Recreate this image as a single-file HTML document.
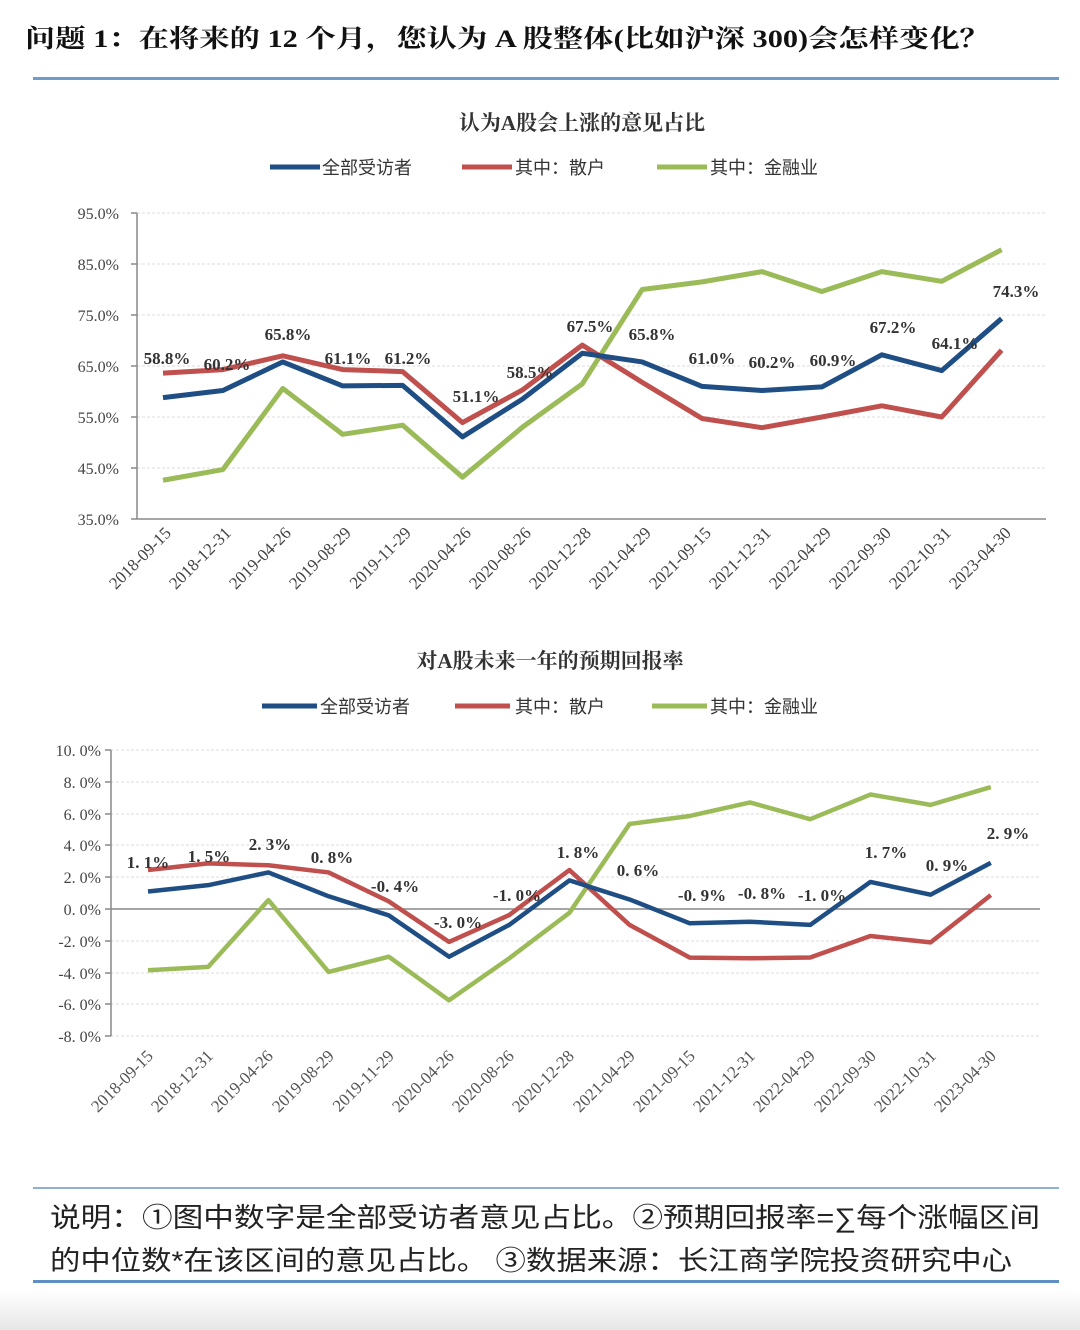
<!DOCTYPE html>
<html><head><meta charset="utf-8"><style>
html,body{margin:0;padding:0;background:#fff}
svg{display:block}
.t{font-family:"Liberation Serif","Noto Serif CJK SC",serif}
.s{font-family:"Liberation Sans","Noto Sans CJK SC",sans-serif}
</style></head><body>
<svg width="1080" height="1330" viewBox="0 0 1080 1330" xmlns="http://www.w3.org/2000/svg">
<defs><linearGradient id="g" x1="0" y1="0" x2="0" y2="1"><stop offset="0" stop-color="#fff"/><stop offset="1" stop-color="#e6e6e6"/></linearGradient></defs>
<rect x="0" y="1290" width="1080" height="40" fill="url(#g)"/>
<text x="25" y="47" class="t" font-size="25" font-weight="bold" fill="#111" textLength="965" lengthAdjust="spacingAndGlyphs">问题 1：在将来的 12 个月，您认为 A 股整体(比如沪深 300)会怎样变化？</text>
<rect x="33" y="77" width="1026" height="3" fill="#6f9bcb"/>

<!-- top chart -->
<text x="582" y="130" class="t" font-size="21" font-weight="bold" fill="#333" text-anchor="middle">认为A股会上涨的意见占比</text>
<g class="s" font-size="18" fill="#333">
<line x1="270" y1="167" x2="320" y2="167" stroke="#1f4e85" stroke-width="5"/><text x="322" y="174">全部受访者</text>
<line x1="462" y1="167" x2="512" y2="167" stroke="#c0504d" stroke-width="5"/><text x="515" y="174">其中：散户</text>
<line x1="657" y1="167" x2="707" y2="167" stroke="#9bbb59" stroke-width="5"/><text x="710" y="174">其中：金融业</text>
</g>
<g stroke="#ddd" stroke-width="1" stroke-dasharray="3,2">
<line x1="137" y1="213" x2="1046" y2="213"/><line x1="137" y1="264" x2="1046" y2="264"/><line x1="137" y1="315" x2="1046" y2="315"/><line x1="137" y1="366" x2="1046" y2="366"/><line x1="137" y1="417" x2="1046" y2="417"/><line x1="137" y1="468" x2="1046" y2="468"/>
</g>
<g stroke="#888" stroke-width="1.5">
<line x1="137" y1="213" x2="137" y2="519"/><line x1="131" y1="519" x2="1046" y2="519"/>
<line x1="131" y1="213" x2="137" y2="213"/><line x1="131" y1="264" x2="137" y2="264"/><line x1="131" y1="315" x2="137" y2="315"/><line x1="131" y1="366" x2="137" y2="366"/><line x1="131" y1="417" x2="137" y2="417"/><line x1="131" y1="468" x2="137" y2="468"/>
</g>
<g class="t" font-size="16" fill="#444" text-anchor="end">
<text x="119" y="219">95.0%</text><text x="119" y="270">85.0%</text><text x="119" y="321">75.0%</text><text x="119" y="372">65.0%</text><text x="119" y="423">55.0%</text><text x="119" y="474">45.0%</text><text x="119" y="525">35.0%</text>
</g>
<g transform="translate(163,697.5) scale(59.9,-5.1)" fill="none" stroke-linejoin="round">
<polyline vector-effect="non-scaling-stroke" stroke="#9bbb59" stroke-width="5" points="0,42.6 1,44.7 2,60.6 3,51.6 4,53.4 5,43.2 6,53 7,61.5 8,80 9,81.5 10,83.5 11,79.6 12,83.5 13,81.6 14,87.8"/>
<polyline vector-effect="non-scaling-stroke" stroke="#c0504d" stroke-width="5" points="0,63.6 1,64.3 2,67 3,64.3 4,63.9 5,53.9 6,60.3 7,69.1 8,61.8 9,54.7 10,52.9 11,55 12,57.2 13,55 14,68.1"/>
<polyline vector-effect="non-scaling-stroke" stroke="#1f4e85" stroke-width="5" points="0,58.8 1,60.2 2,65.8 3,61.1 4,61.2 5,51.1 6,58.5 7,67.5 8,65.8 9,61.0 10,60.2 11,60.9 12,67.2 13,64.1 14,74.3"/>
</g>
<g class="t" font-size="17" font-weight="bold" fill="#333" text-anchor="middle">
<text x="167" y="364">58.8%</text><text x="227" y="370">60.2%</text><text x="288" y="340">65.8%</text><text x="348" y="364">61.1%</text><text x="408" y="364">61.2%</text><text x="476" y="402">51.1%</text><text x="530" y="378">58.5%</text><text x="590" y="332">67.5%</text><text x="652" y="340">65.8%</text><text x="712" y="364">61.0%</text><text x="772" y="368">60.2%</text><text x="833" y="366">60.9%</text><text x="893" y="333">67.2%</text><text x="955" y="349">64.1%</text><text x="1016" y="297">74.3%</text>
</g>
<g class="t" font-size="17" fill="#444" text-anchor="end">
<text transform="translate(172,534) rotate(-45)">2018-09-15</text><text transform="translate(232,534) rotate(-45)">2018-12-31</text><text transform="translate(292,534) rotate(-45)">2019-04-26</text><text transform="translate(352,534) rotate(-45)">2019-08-29</text><text transform="translate(412,534) rotate(-45)">2019-11-29</text><text transform="translate(472,534) rotate(-45)">2020-04-26</text><text transform="translate(532,534) rotate(-45)">2020-08-26</text><text transform="translate(592,534) rotate(-45)">2020-12-28</text><text transform="translate(652,534) rotate(-45)">2021-04-29</text><text transform="translate(712,534) rotate(-45)">2021-09-15</text><text transform="translate(772,534) rotate(-45)">2021-12-31</text><text transform="translate(832,534) rotate(-45)">2022-04-29</text><text transform="translate(892,534) rotate(-45)">2022-09-30</text><text transform="translate(952,534) rotate(-45)">2022-10-31</text><text transform="translate(1012,534) rotate(-45)">2023-04-30</text>
</g>

<!-- bottom chart -->
<text x="550" y="668" class="t" font-size="21" font-weight="bold" fill="#333" text-anchor="middle">对A股未来一年的预期回报率</text>
<g class="s" font-size="18" fill="#333">
<line x1="262" y1="706" x2="317" y2="706" stroke="#1f4e85" stroke-width="5"/><text x="320" y="713">全部受访者</text>
<line x1="455" y1="706" x2="510" y2="706" stroke="#c0504d" stroke-width="5"/><text x="515" y="713">其中：散户</text>
<line x1="652" y1="706" x2="707" y2="706" stroke="#9bbb59" stroke-width="5"/><text x="710" y="713">其中：金融业</text>
</g>
<g stroke="#ddd" stroke-width="1" stroke-dasharray="3,2">
<line x1="111" y1="750" x2="1040" y2="750"/><line x1="111" y1="782" x2="1040" y2="782"/><line x1="111" y1="814" x2="1040" y2="814"/><line x1="111" y1="845" x2="1040" y2="845"/><line x1="111" y1="877" x2="1040" y2="877"/><line x1="111" y1="941" x2="1040" y2="941"/><line x1="111" y1="973" x2="1040" y2="973"/><line x1="111" y1="1004" x2="1040" y2="1004"/><line x1="111" y1="1036" x2="1040" y2="1036"/>
</g>
<g stroke="#888" stroke-width="1.5">
<line x1="111" y1="750" x2="111" y2="1036"/><line x1="105" y1="909" x2="1040" y2="909"/>
<line x1="105" y1="750" x2="111" y2="750"/><line x1="105" y1="782" x2="111" y2="782"/><line x1="105" y1="814" x2="111" y2="814"/><line x1="105" y1="845" x2="111" y2="845"/><line x1="105" y1="877" x2="111" y2="877"/><line x1="105" y1="941" x2="111" y2="941"/><line x1="105" y1="973" x2="111" y2="973"/><line x1="105" y1="1004" x2="111" y2="1004"/><line x1="105" y1="1036" x2="111" y2="1036"/>
</g>
<g class="t" font-size="16" fill="#444" text-anchor="end">
<text x="101" y="756">10. 0%</text><text x="101" y="788">8. 0%</text><text x="101" y="820">6. 0%</text><text x="101" y="851">4. 0%</text><text x="101" y="883">2. 0%</text><text x="101" y="915">0. 0%</text><text x="101" y="947">-2. 0%</text><text x="101" y="979">-4. 0%</text><text x="101" y="1010">-6. 0%</text><text x="101" y="1042">-8. 0%</text>
</g>
<g transform="translate(148,909) scale(60.2,-15.9)" fill="none" stroke-linejoin="round">
<polyline vector-effect="non-scaling-stroke" stroke="#9bbb59" stroke-width="4.5" points="0,-3.85 1,-3.64 2,0.56 3,-3.96 4,-3.0 5,-5.74 6,-3.1 7,-0.24 8,5.35 9,5.85 10,6.7 11,5.65 12,7.2 13,6.55 14,7.67"/>
<polyline vector-effect="non-scaling-stroke" stroke="#c0504d" stroke-width="4.5" points="0,2.45 1,2.87 2,2.75 3,2.3 4,0.48 5,-2.07 6,-0.38 7,2.45 8,-1.0 9,-3.06 10,-3.1 11,-3.05 12,-1.7 13,-2.1 14,0.87"/>
<polyline vector-effect="non-scaling-stroke" stroke="#1f4e85" stroke-width="4.5" points="0,1.1 1,1.5 2,2.3 3,0.8 4,-0.4 5,-3.0 6,-1.0 7,1.8 8,0.6 9,-0.9 10,-0.8 11,-1.0 12,1.7 13,0.9 14,2.9"/>
</g>
<g class="t" font-size="17" font-weight="bold" fill="#333" text-anchor="middle">
<text x="148" y="868">1. 1%</text><text x="209" y="862">1. 5%</text><text x="270" y="850">2. 3%</text><text x="332" y="863">0. 8%</text><text x="395" y="892">-0. 4%</text><text x="458" y="928">-3. 0%</text><text x="517" y="901">-1. 0%</text><text x="578" y="858">1. 8%</text><text x="638" y="876">0. 6%</text><text x="702" y="901">-0. 9%</text><text x="762" y="899">-0. 8%</text><text x="822" y="901">-1. 0%</text><text x="886" y="858">1. 7%</text><text x="947" y="871">0. 9%</text><text x="1008" y="839">2. 9%</text>
</g>
<g class="t" font-size="17" fill="#555" text-anchor="end">
<text transform="translate(154,1057) rotate(-45)">2018-09-15</text><text transform="translate(214,1057) rotate(-45)">2018-12-31</text><text transform="translate(274,1057) rotate(-45)">2019-04-26</text><text transform="translate(335,1057) rotate(-45)">2019-08-29</text><text transform="translate(395,1057) rotate(-45)">2019-11-29</text><text transform="translate(455,1057) rotate(-45)">2020-04-26</text><text transform="translate(515,1057) rotate(-45)">2020-08-26</text><text transform="translate(575,1057) rotate(-45)">2020-12-28</text><text transform="translate(636,1057) rotate(-45)">2021-04-29</text><text transform="translate(696,1057) rotate(-45)">2021-09-15</text><text transform="translate(756,1057) rotate(-45)">2021-12-31</text><text transform="translate(816,1057) rotate(-45)">2022-04-29</text><text transform="translate(877,1057) rotate(-45)">2022-09-30</text><text transform="translate(937,1057) rotate(-45)">2022-10-31</text><text transform="translate(997,1057) rotate(-45)">2023-04-30</text>
</g>

<!-- note -->
<rect x="33" y="1187" width="1026" height="2" fill="#8fb0d6"/>
<text x="50" y="1227" class="s" font-size="27" fill="#222" textLength="990" lengthAdjust="spacingAndGlyphs">说明：①图中数字是全部受访者意见占比。②预期回报率=∑每个涨幅区间</text>
<text x="50" y="1270" class="s" font-size="27" fill="#222" textLength="962" lengthAdjust="spacingAndGlyphs">的中位数*在该区间的意见占比。 ③数据来源：长江商学院投资研究中心</text>
<rect x="33" y="1280" width="1026" height="3" fill="#5f8fc3"/>
</svg>
</body></html>
